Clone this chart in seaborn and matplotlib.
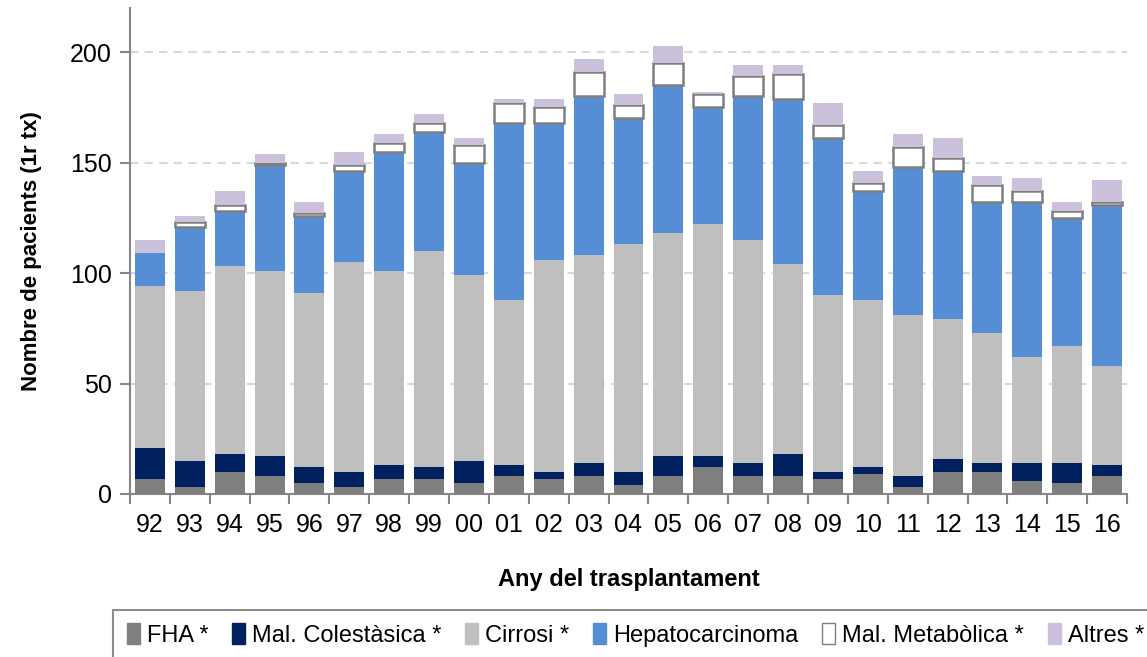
import numpy as np
import matplotlib
matplotlib.use('Agg')
import matplotlib.pyplot as plt
import pandas as pd
import seaborn as sns
from matplotlib.patches import Patch, Rectangle

# dades
years = ['92', '93', '94', '95', '96', '97', '98', '99', '00', '01', '02', '03', '04',
         '05', '06', '07', '08', '09', '10', '11', '12', '13', '14', '15', '16']
fha = [7, 3, 10, 8, 5, 3, 7, 7, 5, 8, 7, 8, 4, 8, 12, 8, 8, 7, 9, 3, 10, 10, 6, 5, 8]
colestasica = [14, 12, 8, 9, 7, 7, 6, 5, 10, 5, 3, 6, 6, 9, 5, 6, 10, 3, 3, 5, 6, 4, 8, 9, 5]
cirrosi = [73, 77, 85, 84, 79, 95, 88, 98, 84, 75, 96, 94, 103, 101, 105, 101, 86, 80, 76, 73, 63, 59, 48, 53, 45]
hepato = [15, 29, 25, 48, 35, 41, 54, 54, 51, 80, 62, 72, 57, 67, 53, 65, 75, 71, 49, 67, 67, 59, 70, 58, 73]
metabolica = [0, 2, 3, 1, 1, 3, 4, 4, 8, 9, 7, 11, 6, 10, 6, 9, 11, 6, 4, 9, 6, 8, 5, 3, 1]
altres = [6, 3, 6, 4, 5, 6, 4, 4, 3, 2, 4, 6, 5, 8, 1, 5, 4, 10, 5, 6, 9, 4, 6, 4, 10]

series = ['FHA *', 'Mal. Colestàsica *', 'Cirrosi *', 'Hepatocarcinoma', 'Mal. Metabòlica *', 'Altres *']
colors = ['#7F7F7F', '#002060', '#BFBFBF', '#558ED5', '#FFFFFF', '#CCC1DA']

df = pd.DataFrame({'any': years, series[0]: fha, series[1]: colestasica, series[2]: cirrosi,
                   series[3]: hepato, series[4]: metabolica, series[5]: altres})

fonts = ['Liberation Sans', 'DejaVu Sans']

fig = plt.figure(figsize=(11.47, 6.57), dpi=100)
ax = fig.add_axes([0.1133, 0.2481, 0.8693, 0.7397])

ax.yaxis.grid(True, linestyle=(0, (4, 3)), color='#D9D9D9', linewidth=1.5)
ax.set_axisbelow(True)

bottom = np.zeros(len(years))
for s, c in zip(series, colors):
    if s == 'Mal. Metabòlica *':
        kw = dict(edgecolor='#7F7F7F', linewidth=1.8)
    else:
        kw = dict(linewidth=0)
    sns.barplot(data=df, x='any', y=s, color=c, saturation=1, width=0.75,
                bottom=bottom, ax=ax, zorder=3, **kw)
    bottom = bottom + df[s].values

# treure vores de les barres buides
for p in ax.patches:
    if p.get_height() == 0:
        p.set_linewidth(0)

ax.set_xlim(-0.5, len(years) - 0.5)
ax.set_ylim(0, 220)
ax.set_yticks([0, 50, 100, 150, 200])

for sp in ['top', 'right']:
    ax.spines[sp].set_visible(False)
for sp in ['left', 'bottom']:
    ax.spines[sp].set_color('#868686')
    ax.spines[sp].set_linewidth(1.5)

ax.tick_params(axis='x', which='major', length=0, pad=14, labelsize=18)
ax.set_xticks(np.arange(-0.5, len(years), 1), minor=True)
ax.tick_params(axis='x', which='minor', length=7, width=1.5, color='#868686')
ax.tick_params(axis='y', length=7, width=1.5, color='#868686', labelsize=18, pad=6)
for lbl in ax.get_xticklabels() + ax.get_yticklabels():
    lbl.set_family(fonts)

ax.set_xlabel('Any del trasplantament', fontsize=17, fontweight='bold', labelpad=22, family=fonts)
ax.set_ylabel('Nombre de pacients (1r tx)', fontsize=16, fontweight='bold', labelpad=20, family=fonts)

# llegenda
fig.patches.append(Rectangle((113 / 1147, -0.05), 1.1, (657 - 610) / 657 + 0.05,
                             transform=fig.transFigure, facecolor='white',
                             edgecolor='#8C8C8C', linewidth=1.5, zorder=0))
handles = [Patch(facecolor=c, edgecolor=('#7F7F7F' if c == '#FFFFFF' else c), linewidth=1)
           for c in colors]
fig.legend(handles, series, loc='center left', bbox_to_anchor=(127 / 1147, 22 / 657),
           ncol=6, frameon=False, handlelength=0.55, handleheight=1.0, handletextpad=0.3,
           columnspacing=1.0, borderaxespad=0, borderpad=0,
           prop={'family': fonts, 'size': 17})

fig.savefig('out.png', dpi=100)
